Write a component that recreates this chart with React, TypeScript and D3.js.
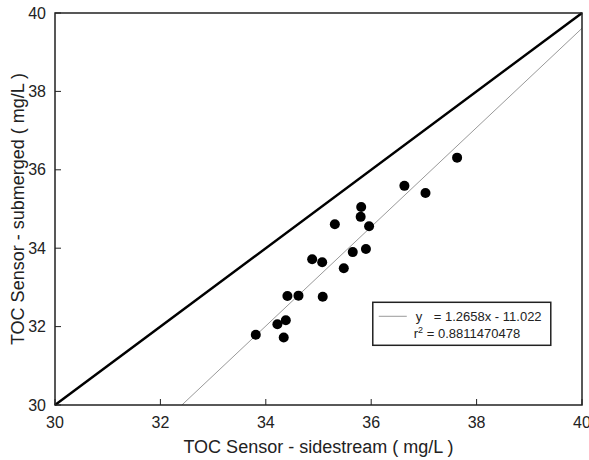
import React from "react";
import * as d3 from "d3";

const width = 589;
const height = 460;
const margin = { top: 13, right: 7, bottom: 55, left: 55 };

// sidestream vs submerged TOC readings (mg/L)
const sidestream = [
  37.63, 36.63, 37.03, 35.81, 35.8, 35.31, 35.96, 35.65, 35.9, 34.88, 35.07,
  35.48, 34.41, 34.62, 35.08, 34.38, 34.22, 34.34, 33.81,
];
const submerged = [
  36.31, 35.59, 35.41, 35.05, 34.8, 34.61, 34.56, 33.9, 33.98, 33.72, 33.64,
  33.49, 32.78, 32.79, 32.76, 32.16, 32.06, 31.72, 31.79,
];
const ticks = [30, 32, 34, 36, 38, 40];
const slope = 1.2658;
const intercept = -11.022;
const eqLabel = "= 1.2658x - 11.022";
const r2Label = "= 0.8811470478";

const font = "'Liberation Sans', Arial, sans-serif";

const App = () => {
  const x = d3
    .scaleLinear()
    .domain([30, 40])
    .range([margin.left, width - margin.right]);
  const y = d3
    .scaleLinear()
    .domain([30, 40])
    .range([height - margin.bottom, margin.top]);

  const line = d3
    .line<[number, number]>()
    .x((d) => x(d[0]))
    .y((d) => y(d[1]));

  // identity line and regression fit
  const identity = line([
    [30, 30],
    [40, 40],
  ]);
  const x0 = (30 - intercept) / slope;
  const fit = line([
    [x0, 30],
    [40, slope * 40 + intercept],
  ]);

  const points = sidestream.map((v, i) => ({ x: v, y: submerged[i] }));

  const x1 = x.range()[0];
  const x2 = x.range()[1];
  const y1 = y.range()[1];
  const y2 = y.range()[0];

  // legend box placement
  const lx = x(36.03);
  const ly = y(32.62);

  return (
    <svg
      width={width}
      height={height}
      style={{ position: "absolute", left: 0, top: 0, background: "#fff" }}
      fontFamily={font}
    >
      <rect x={0} y={0} width={width} height={height} fill="#fff" />

      {/* y ticks */}
      {ticks.map((t) => (
        <g key={"y" + t}>
          <line x1={x1} x2={x1 + 6} y1={y(t)} y2={y(t)} stroke="#222" strokeWidth={1} />
          <text x={x1 - 9} y={y(t) + 5.5} textAnchor="end" fontSize={16} fill="#222">
            {t}
          </text>
        </g>
      ))}

      {/* x ticks */}
      {ticks.map((t) => (
        <g key={"x" + t}>
          <line x1={x(t)} x2={x(t)} y1={y2} y2={y2 - 6} stroke="#222" strokeWidth={1} />
          <text x={x(t)} y={y2 + 23} textAnchor="middle" fontSize={16} fill="#222">
            {t}
          </text>
        </g>
      ))}

      <path d={fit || ""} stroke="#999" strokeWidth={1} fill="none" />
      <path d={identity || ""} stroke="#000" strokeWidth={2.5} fill="none" />

      {points.map((p, i) => (
        <circle key={i} cx={x(p.x)} cy={y(p.y)} r={5} fill="#000" />
      ))}

      <rect
        x={x1}
        y={y1}
        width={x2 - x1}
        height={y2 - y1}
        fill="none"
        stroke="#222"
        strokeWidth={1.5}
      />

      {/* legend */}
      <g transform={`translate(${lx},${ly})`}>
        <rect x={0} y={0} width={178} height={43} fill="#fff" stroke="#222" strokeWidth={1.5} />
        <line x1={6} x2={34} y1={14} y2={14} stroke="#999" strokeWidth={1} />
        <text x={43} y={19} fontSize={13} fill="#222">
          y
        </text>
        <text x={61} y={19} fontSize={13} fill="#222">
          {eqLabel}
        </text>
        <text x={41} y={36} fontSize={13} fill="#222">
          r<tspan fontSize={9} dy={-5}>2</tspan>
          <tspan dy={5}> {r2Label}</tspan>
        </text>
      </g>

      {/* axis titles */}
      <text
        x={(x1 + x2) / 2}
        y={453}
        textAnchor="middle"
        fontSize={18}
        fill="#222"
      >
        TOC Sensor - sidestream ( mg/L )
      </text>
      <text
        transform={`translate(24,${(y1 + y2) / 2}) rotate(-90)`}
        textAnchor="middle"
        fontSize={18}
        fill="#222"
      >
        TOC Sensor - submerged ( mg/L )
      </text>
    </svg>
  );
};

export default App;
